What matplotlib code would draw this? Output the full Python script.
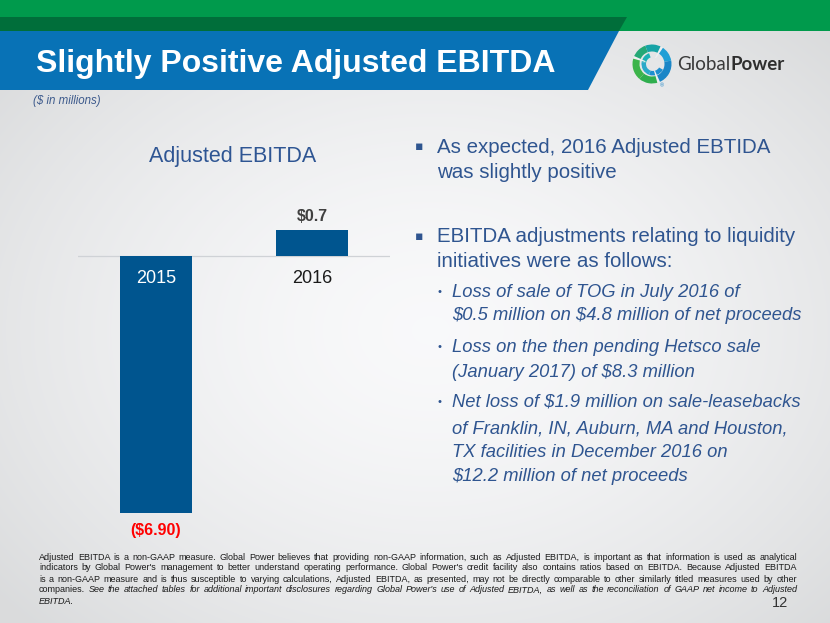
import numpy as np
import matplotlib
matplotlib.use("Agg")
import matplotlib.pyplot as plt
from matplotlib.patches import Polygon, Wedge, Circle

# ---------------- data ----------------
years = ["2015", "2016"]
ebitda = [-6.90, 0.7]
value_labels = ["($6.90)", "$0.7"]
value_colors = ["#ff0000", "#404040"]
year_colors = ["#ffffff", "#1a1a1a"]

title = "Slightly Positive Adjusted EBITDA"
subtitle = "($ in millions)"
chart_title = "Adjusted EBITDA"

bullets_main = [
    ["As expected, 2016 Adjusted EBTIDA", "was slightly positive"],
    ["EBITDA adjustments relating to liquidity", "initiatives were as follows:"],
]
bullets_sub = [
    ["Loss of sale of TOG in July 2016 of", "$0.5 million on $4.8 million of net proceeds"],
    ["Loss on the then pending Hetsco sale", "(January 2017) of $8.3 million"],
    ["Net loss of $1.9 million on sale-leasebacks", "of Franklin, IN, Auburn, MA and Houston,",
     "TX facilities in December 2016 on", "$12.2 million of net proceeds"],
]
footnote_lines = [
    [("Adjusted EBITDA is a non-GAAP measure.  Global Power believes that providing non-GAAP information, such as Adjusted EBITDA, is important as that information is used as analytical", "normal")],
    [("indicators by Global Power's management to better understand operating performance.  Global Power's credit facility also contains ratios based on EBITDA.  Because Adjusted EBITDA", "normal")],
    [("is a non-GAAP measure and is thus susceptible to varying calculations, Adjusted EBITDA, as presented, may not be directly comparable to other similarly titled measures used by other", "normal")],
    [("companies.", "normal"), ("See the attached tables for additional important disclosures regarding Global Power's use of Adjusted EBITDA, as well as the reconciliation of GAAP net income to Adjusted", "italic")],
    [("EBITDA.", "italic")],
]
page_number = "12"

# ---------------- figure ----------------
W, H = 830, 623
fig = plt.figure(figsize=(W / 100, H / 100), dpi=100)
bg = fig.add_axes([0, 0, 1, 1])
bg.set_xlim(0, W)
bg.set_ylim(H, 0)
bg.axis("off")

# background gradient
yy, xx = np.mgrid[0:H, 0:W]
d = np.sqrt(((xx - 430) / 560.0) ** 2 + ((yy - 330) / 420.0) ** 2)
d = np.clip(d, 0, 1) ** 1.6
c0 = np.array([0.975, 0.977, 0.982])
c1 = np.array([0.855, 0.86, 0.865])
img = c0[None, None, :] * (1 - d[..., None]) + c1[None, None, :] * d[..., None]
bg.imshow(img, extent=[0, W, H, 0], zorder=0, aspect="auto")

FONT = ["Liberation Sans", "DejaVu Sans"]

# header bands
bg.add_patch(Polygon([(0, 0), (W, 0), (W, 31), (0, 31)], closed=True, color="#009a4c", zorder=1, lw=0))
bg.add_patch(Polygon([(0, 17), (627, 17), (619, 31), (0, 31)], closed=True, color="#006e3a", zorder=2, lw=0))
bg.add_patch(Polygon([(0, 31), (619, 31), (588, 90), (0, 90)], closed=True, color="#0872b6", zorder=2, lw=0))

bg.text(36, 72, title, color="white", fontsize=23, fontweight="bold", family=FONT,
        va="baseline", ha="left", zorder=3, parse_math=False)
bg.text(33, 104, subtitle, color="#3d5a8c", fontsize=8.3, style="italic", family=FONT,
        va="baseline", ha="left", zorder=3, parse_math=False)

# logo (swirl approximation)
cx, cy = 652, 64
ring = [(70, 130, "#2fae4e"), (130, 200, "#3cb44a"), (200, 250, "#25a876"),
        (250, 300, "#17a3a6"), (300, 350, "#1f9fd6"), (350, 430, "#1b86c7")]
for a0, a1, col in ring:
    bg.add_patch(Wedge((cx, cy), 19.5, a0, a1, width=7, color=col, zorder=3, lw=0))
inner = [(30, 110, "#1d8fd0"), (110, 190, "#2aa9c9"), (190, 250, "#1fb0b5")]
for a0, a1, col in inner:
    bg.add_patch(Wedge((cx + 1, cy), 11.5, a0, a1, width=4.5, color=col, zorder=3, lw=0))
# swirl gaps
for ang in (70, 200, 300):
    bg.add_patch(Wedge((cx, cy), 20, ang - 4, ang + 4, width=13, color="#eeeff1", zorder=3, lw=0))
bg.text(662, 86, "®", fontsize=4, color="#1d86c8", family=FONT, ha="center", va="center", zorder=3)
tg = bg.text(677, 70, "Global", fontsize=13.5, color="#3a3a3a", family=["Lato", "DejaVu Sans"],
             va="baseline", ha="left", zorder=3)
bg.annotate("Power", xy=(1, 0), xycoords=tg, xytext=(0.5, 0), textcoords="offset points",
            fontsize=13.5, color="#2e2e2e", family=["Lato", "DejaVu Sans"], fontweight="bold",
            va="bottom", ha="left", zorder=3)

# ---------------- chart ----------------
ax_left, ax_right = 78, 390
ax_top, ax_bottom = 195, 545
zero_y = 256
px_per_unit = 37.3
x_left_val, x_right_val = -0.5, 1.5
ax = fig.add_axes([ax_left / W, 1 - ax_bottom / H, (ax_right - ax_left) / W, (ax_bottom - ax_top) / H])
ax.set_facecolor("none")
ax.set_xlim(x_left_val, x_right_val)
ax.set_ylim(-(ax_bottom - zero_y) / px_per_unit, (zero_y - ax_top) / px_per_unit)
for s in ax.spines.values():
    s.set_visible(False)
ax.set_xticks([])
ax.set_yticks([])

xpos = np.arange(len(years))
ax.bar(xpos, ebitda, width=0.4615, color="#00558f", zorder=2)
ax.axhline(0, color="#cfd2d6", lw=0.9, zorder=1)

for i, (v, lab, col) in enumerate(zip(ebitda, value_labels, value_colors)):
    off = 6 if v >= 0 else -10
    ax.annotate(lab, xy=(xpos[i], v), xytext=(0, off), textcoords="offset pixels",
                ha="center", va="bottom" if v >= 0 else "top", fontsize=11.5,
                fontweight="bold", color=col, family=FONT, zorder=3, parse_math=False)
for i, (yr, col) in enumerate(zip(years, year_colors)):
    ax.annotate(yr, xy=(xpos[i], 0), xytext=(0, -27), textcoords="offset pixels",
                ha="center", va="baseline", fontsize=13, color=col, family=FONT, zorder=3)

bg.text(233, 162, chart_title, fontsize=15.5, color="#2e5593", family=FONT,
        ha="center", va="baseline", zorder=3)

# ---------------- bullets ----------------
TXT = "#2f5590"
main_baselines = [[153, 178], [242, 267]]
for lines, bls in zip(bullets_main, main_baselines):
    bg.text(419, bls[0] - 6, "▪", fontsize=9, color=TXT, family=["DejaVu Sans"],
            ha="center", va="center", zorder=3)
    for ln, b in zip(lines, bls):
        bg.text(437, b, ln, fontsize=14.8, color=TXT, family=FONT, ha="left",
                va="baseline", zorder=3, parse_math=False)

sub_baselines = [[297, 320], [352, 377], [407, 433, 457, 481]]
for lines, bls in zip(bullets_sub, sub_baselines):
    bg.text(439, bls[0] - 5, "•", fontsize=8, color=TXT, family=FONT,
            ha="center", va="center", zorder=3)
    for ln, b in zip(lines, bls):
        bg.text(452, b, ln, fontsize=13.2, color=TXT, style="italic", family=FONT,
                ha="left", va="baseline", zorder=3, parse_math=False)

# ---------------- footnote (justified) ----------------
renderer = fig.canvas.get_renderer()
fx0, fx1 = 39, 797
fbase = [559.5, 570.5, 581.5, 592.5, 604]
# pick a font size so that line 1 nearly fills the width with normal spacing
probe = bg.text(0, 0, " ".join(s for s, _ in footnote_lines[0]), fontsize=6, family=FONT)
pw = probe.get_window_extent(renderer).width
probe.remove()
FS = 6 * (fx1 - fx0) / pw * 0.985
for li, (segs, yb) in enumerate(zip(footnote_lines, fbase)):
    words = []
    for seg, st in segs:
        for w in seg.split():
            words.append((w, st))
    objs = []
    for w, st in words:
        t = bg.text(0, yb, w, fontsize=FS, style=st, family=FONT, color="#1a1a1a",
                    ha="left", va="baseline", zorder=3, parse_math=False)
        objs.append(t)
    widths = [t.get_window_extent(renderer).width for t in objs]
    last = li == len(footnote_lines) - 1
    if last or len(objs) == 1:
        gap = 2.5
    else:
        gap = (fx1 - fx0 - sum(widths)) / (len(objs) - 1)
    x = fx0
    for t, wd in zip(objs, widths):
        t.set_x(x)
        x += wd + gap

bg.text(788, 607, page_number, fontsize=10.5, color="#333333", family=FONT,
        ha="right", va="baseline", zorder=3)

fig.savefig("out.png", dpi=100)
